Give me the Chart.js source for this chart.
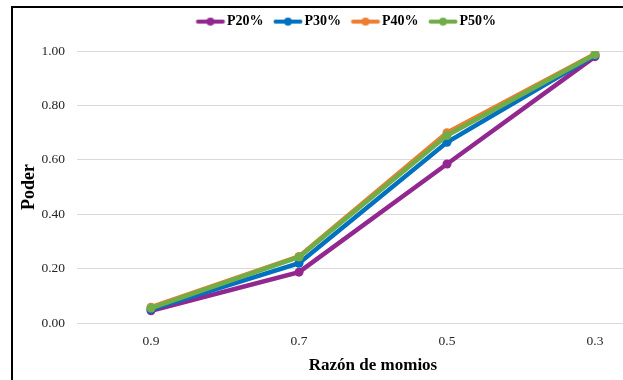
<!DOCTYPE html>
<html>
<head>
<meta charset="utf-8">
<script src="https://cdn.jsdelivr.net/npm/chart.js@4"></script>
<style>
  html, body { margin: 0; padding: 0; background: #fff; overflow: hidden; }
  #wrap { position: relative; width: 623px; height: 380px; overflow: hidden; }
  #c { position: absolute; left: 0; top: 0; }
  #frame { position: absolute; left: 11px; top: 6px; width: 700px; height: 400px;
           border-left: 2px solid #000; border-top: 2px solid #000; }
</style>
</head>
<body>
<div id="wrap">
  <canvas id="c" width="690" height="380"></canvas>
  <div id="frame"></div>
</div>
<script>
// Razón de momios (categorías del eje X)
const categories = ['0.9', '0.7', '0.5', '0.3'];

// Poder estimado para cada proporción
const p20 = [0.045, 0.187, 0.585, 0.980];
const p30 = [0.050, 0.220, 0.665, 0.985];
const p40 = [0.058, 0.245, 0.700, 0.990];
const p50 = [0.055, 0.243, 0.690, 0.988];

const seriesNames = ['P20%', 'P30%', 'P40%', 'P50%'];
const seriesData = [p20, p30, p40, p50];
const seriesColors = ['#92278F', '#0070C0', '#ED7D31', '#70AD47'];

const serif = "'Liberation Serif', 'Times New Roman', serif";

// legend marker: short thick line with a dot in the middle,
// drawn left of the image centre so the label sits close to it
function legendMarker(color) {
  const cv = document.createElement('canvas');
  cv.width = 35; cv.height = 10;
  const g = cv.getContext('2d');
  g.strokeStyle = color; g.lineWidth = 4; g.lineCap = 'round';
  g.beginPath(); g.moveTo(4.5, 5); g.lineTo(29.5, 5); g.stroke();
  g.fillStyle = color;
  g.beginPath(); g.arc(17, 5, 4, 0, Math.PI * 2); g.fill();
  return cv;
}

const datasets = seriesNames.map((name, i) => ({
  label: name,
  data: seriesData[i],
  borderColor: seriesColors[i],
  backgroundColor: seriesColors[i],
  borderWidth: 4.5,
  pointRadius: 4.5,
  pointBorderWidth: 0,
  pointBackgroundColor: seriesColors[i],
  tension: 0,
  order: seriesNames.length - i,
  marker: legendMarker(seriesColors[i])
}));

// legend row: extra gap above the plot and a small horizontal nudge
const legendTweak = {
  id: 'legendTweak',
  afterInit(chart) {
    const lg = chart.legend;
    if (!lg) return;
    const fit = lg.fit;
    lg.fit = function () { fit.call(this); this.height += 12.6; };
    const draw = lg.draw;
    lg.draw = function () {
      const ctx = this.ctx;
      ctx.save();
      ctx.translate(8, 0);
      draw.call(this);
      ctx.restore();
    };
  }
};

new Chart(document.getElementById('c'), {
  type: 'line',
  data: { labels: categories, datasets },
  plugins: [legendTweak],
  options: {
    responsive: false,
    animation: false,
    layout: { padding: { left: 13, right: 21, top: -1.4, bottom: 0 } },
    plugins: {
      tooltip: { enabled: false },
      legend: {
        position: 'top',
        align: 'center',
        labels: {
          usePointStyle: true,
          pointStyleWidth: 18,
          padding: 16,
          color: '#000',
          font: { family: serif, size: 14, weight: 'bold' },
          sort: (a, b) => a.datasetIndex - b.datasetIndex,
          generateLabels(chart) {
            return chart.data.datasets.map((ds, i) => ({
              text: ds.label,
              pointStyle: ds.marker,
              fillStyle: ds.borderColor,
              strokeStyle: ds.borderColor,
              lineWidth: 0,
              hidden: false,
              datasetIndex: i,
              fontColor: '#000'
            }));
          }
        }
      }
    },
    scales: {
      x: {
        offset: true,
        grid: { display: false, drawTicks: false },
        border: { display: false },
        ticks: { padding: 10, color: '#262626', font: { family: serif, size: 13.5 } },
        title: {
          display: true, text: 'Razón de momios', color: '#000',
          font: { family: serif, size: 17, weight: 'bold' },
          padding: { top: 2, bottom: 4 }
        },
        afterFit(s) { s.height = 57; }
      },
      y: {
        min: 0, max: 1,
        grid: { color: '#d9d9d9', lineWidth: 1, drawTicks: false },
        border: { display: false },
        ticks: {
          stepSize: 0.2, padding: 12, color: '#262626',
          font: { family: serif, size: 13.5 },
          callback: v => Number(v).toFixed(2)
        },
        title: {
          display: true, text: 'Poder', color: '#000',
          font: { family: serif, size: 18, weight: 'bold' },
          padding: { top: 6, bottom: 4 }
        },
        afterFit(s) { s.width = 64; }
      }
    }
  }
});
</script>
</body>
</html>
